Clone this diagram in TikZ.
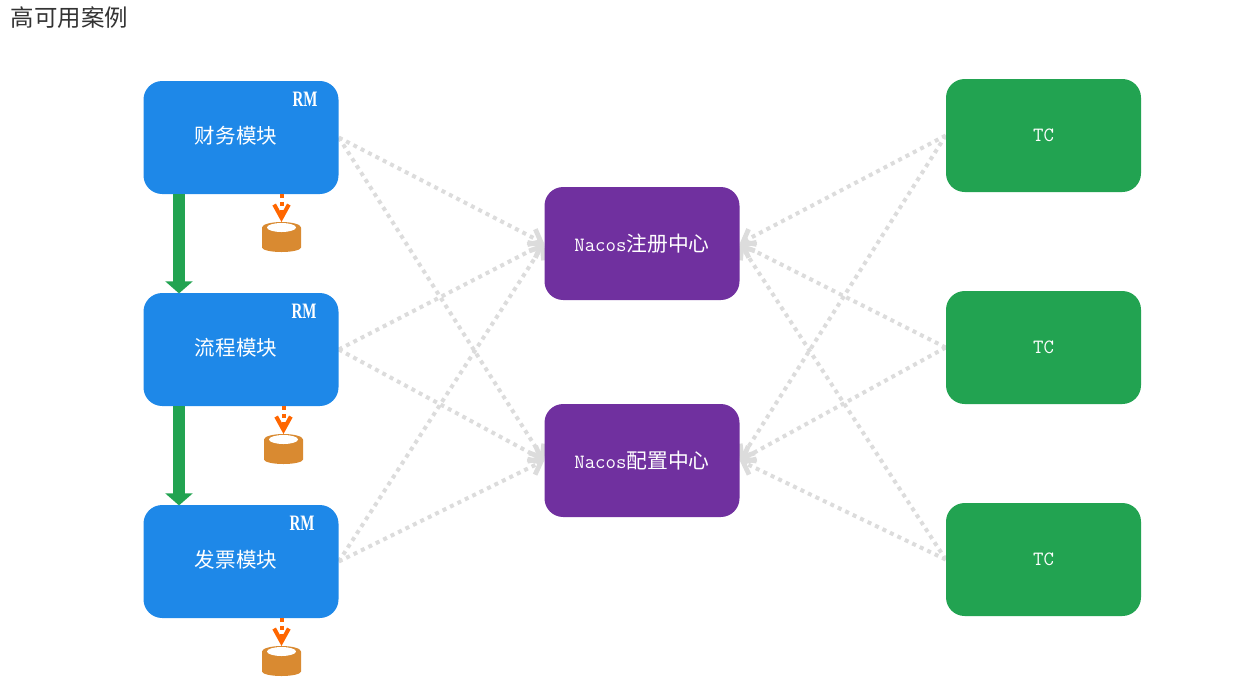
\documentclass[tikz,border=0pt]{standalone}
\usepackage{fontspec}
\newfontfamily\cjk{Noto Sans CJK SC}
\newfontfamily\rmtag[FakeStretch=0.68]{Liberation Serif}
\usetikzlibrary{arrows.meta,backgrounds,positioning}
\definecolor{modblue}{HTML}{1E88E8}
\definecolor{tcgreen}{HTML}{22A351}
\definecolor{nacospurple}{HTML}{70309F}
\definecolor{linkgrey}{HTML}{DCDCDC}
\definecolor{dborange}{HTML}{D98A31}
\definecolor{logorange}{HTML}{FF6600}
\tikzset{box/.style={rectangle,rounded corners=14pt,minimum width=146.25pt,minimum height=84.75pt,inner sep=0pt},
         module/.style={box,fill=modblue},
         center node/.style={box,fill=nacospurple,text=white,font=\ttfamily\fontsize{15.2}{16}\selectfont},
         tc/.style={box,fill=tcgreen,text=white,font=\ttfamily\fontsize{15.2}{16}\selectfont},
         module label/.style={text=white,font=\cjk\fontsize{15.4}{17}\selectfont,inner sep=0pt},
         rm label/.style={text=white,font=\rmtag\bfseries\fontsize{16.5}{18}\selectfont,inner sep=0pt},
         link/.style={draw=linkgrey,line width=3pt,dash pattern=on 3pt off 3.2pt,-{Straight Barb[length=8pt,width=13pt,line width=3.6pt]}},
         flow/.style={draw=tcgreen,line width=9pt,-{Triangle[length=9pt,width=20pt]},shorten >=-0.5pt},
         log/.style={draw=logorange,line width=3pt,dash pattern=on 3pt off 3pt,-{Straight Barb[length=10pt,width=11pt,line width=3pt]}}
}
\begin{document}
\begin{tikzpicture}[x=0.75pt,y=-0.75pt]
\useasboundingbox (0,0) rectangle (1242,683);
\node[inner sep=0pt,font=\cjk\fontsize{17.6}{20}\selectfont,text=black!80] (title) at (69.5,18) {高可用案例};
% modules
\node[module] (finance) at (241,137.5) {};
\node[module] (process) at (241,349.5) {};
\node[module] (invoice) at (241,561.5) {};
\node[module label] (financetext) at (236,136) {财务模块};
\node[module label] (processtext) at (236,348) {流程模块};
\node[module label] (invoicetext) at (236,559.5) {发票模块};
\node[rm label] (rm1) at (305,99) {RM};
\node[rm label] (rm2) at (304,311) {RM};
\node[rm label] (rm3) at (302,523) {RM};
% nacos
\node[center node] (registry) at (642,243.5) {Nacos{\cjk\fontsize{15.6}{16}\selectfont 注册中心}};
\node[center node] (config) at (642,460.5) {Nacos{\cjk\fontsize{15.6}{16}\selectfont 配置中心}};
% tc
\node[tc] (tc1) at (1043.5,135.5) {TC};
\node[tc] (tc2) at (1043.5,347.5) {TC};
\node[tc] (tc3) at (1043.5,559.5) {TC};
% databases
\foreach \d/\x/\y in {db1/281.5/222,db2/283.5/434,db3/281.5/646}{
    \fill[dborange] (\x-19.5,\y+5.5) arc[start angle=180,end angle=0,x radius=19.5,y radius=-5.5]
        -- (\x+19.5,\y+25.5) arc[start angle=0,end angle=-180,x radius=19.5,y radius=-4.5] -- cycle;
    \fill[white] (\x,\y+5.5) ellipse[x radius=14.5,y radius=4.5];
    \coordinate (\d) at (\x,\y);
}
% links
\begin{scope}[on background layer]
\foreach \m in {finance,process,invoice}{
    \foreach \n in {registry,config}{
        \draw[link] (\m.east) -- (\n.west);
    }
}
\foreach \t in {tc1,tc2,tc3}{
    \foreach \n in {registry,config}{
        \draw[link] (\t.west) -- (\n.east);
    }
}
\end{scope}
% flow
\draw[flow] ([xshift=-46.5pt]finance.south) -- ([xshift=-46.5pt]process.north);
\draw[flow] ([xshift=-46.5pt]process.south) -- ([xshift=-46.5pt]invoice.north);
% logs
\draw[log] (finance.south -| db1) -- (db1);
\draw[log] (process.south -| db2) -- (db2);
\draw[log] (invoice.south -| db3) -- (db3);
\end{tikzpicture}
\end{document}
